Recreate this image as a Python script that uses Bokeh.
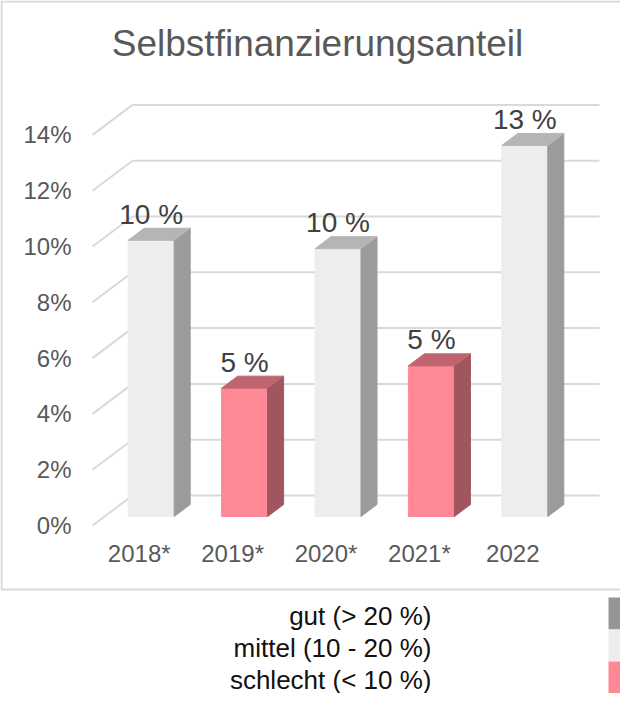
from bokeh.plotting import figure
from bokeh.models import Range1d, ColumnDataSource
from bokeh.core.properties import value
from bokeh.embed import file_html
from bokeh.resources import INLINE

# ---------------- data ----------------
title_text = "Selbstfinanzierungsanteil"
years = ["2018*", "2019*", "2020*", "2021*", "2022"]
shares = [9.9, 4.6, 9.6, 5.4, 13.3]
share_labels = ["10 %", "5 %", "10 %", "5 %", "13 %"]
ratings = ["mittel", "schlecht", "mittel", "schlecht", "mittel"]
y_ticks = [0, 2, 4, 6, 8, 10, 12, 14]
y_tick_labels = ["0%", "2%", "4%", "6%", "8%", "10%", "12%", "14%"]
legend_keys = ["gut", "mittel", "schlecht"]
legend_labels = ["gut (> 20 %)", "mittel (10 - 20 %)", "schlecht (< 10 %)"]

# ---------------- styles ----------------
FRONT = {"gut": "#969696", "mittel": "#EDEDED", "schlecht": "#FF8896"}
SIDE = {"gut": "#7A7A7A", "mittel": "#9B9B9B", "schlecht": "#A0565F"}
TOP = {"gut": "#8A8A8A", "mittel": "#B5B5B5", "schlecht": "#C0656F"}
GRID = "#D9D9D9"
FONT = value("Liberation Sans")

# projection geometry (pixels on the page)
PX_PER_CAT = 93.4
PX_PER_PCT = 27.9
ORIGIN_X = 100.0
ORIGIN_Y = 533.0
DEPTH_X = 40.0 / PX_PER_CAT
DEPTH_Y = 30.0 / PX_PER_PCT
BAR_HALF = 23.0 / PX_PER_CAT
D0, D1 = 0.3, 0.7

W, H = 620, 693


def cx(X):
    return (X - ORIGIN_X) / PX_PER_CAT


def vy(Y):
    return (ORIGIN_Y - Y) / PX_PER_PCT


p = figure(width=W, height=H, output_backend="svg", toolbar_location=None,
           x_range=Range1d(cx(8), cx(8 + W)), y_range=Range1d(vy(8 + H), vy(8)),
           min_border=0, outline_line_color=None)
p.axis.visible = False
p.grid.visible = False
p.background_fill_color = "white"
p.border_fill_color = "white"

# chart border (right edge runs off the page)
p.quad(left=[cx(9)], right=[cx(800)], top=[vy(9)], bottom=[vy(597)],
       fill_color=None, line_color=GRID, line_width=2)

# title
p.text(x=[cx(325)], y=[vy(51)], text=[title_text], text_font=FONT,
       text_font_size=value("37px"), text_color="#595959",
       text_align="center", text_baseline="middle")

# gridlines: back wall and side wall
n = len(years)
p.segment(x0=[DEPTH_X] * len(y_ticks), y0=[t + DEPTH_Y for t in y_ticks],
          x1=[n + DEPTH_X] * len(y_ticks), y1=[t + DEPTH_Y for t in y_ticks],
          line_color=GRID, line_width=2)
p.segment(x0=[0] * len(y_ticks), y0=y_ticks,
          x1=[DEPTH_X] * len(y_ticks), y1=[t + DEPTH_Y for t in y_ticks],
          line_color=GRID, line_width=2)

# y tick labels
p.text(x=[cx(79)] * len(y_ticks), y=y_ticks, text=y_tick_labels, text_font=FONT,
       text_font_size=value("24px"), text_color="#595959",
       text_align="right", text_baseline="middle")

# bars
ddx = (D1 - D0) * DEPTH_X
ddy = (D1 - D0) * DEPTH_Y
fl, fr, fb, ft, fc = [], [], [], [], []
sxs, sys_, sc = [], [], []
txs, tys, tc = [], [], []
lab_x, lab_y = [], []
for i, (v, r) in enumerate(zip(shares, ratings)):
    c = i + 0.5 + D0 * DEPTH_X
    l, rr = c - BAR_HALF, c + BAR_HALF
    b = D0 * DEPTH_Y
    t = v + D0 * DEPTH_Y
    fl.append(l); fr.append(rr); fb.append(b); ft.append(t); fc.append(FRONT[r])
    sxs.append([rr, rr + ddx, rr + ddx, rr])
    sys_.append([b, b + ddy, t + ddy, t])
    sc.append(SIDE[r])
    txs.append([l, rr, rr + ddx, l + ddx])
    tys.append([t, t, t + ddy, t + ddy])
    tc.append(TOP[r])
    lab_x.append(c)
    lab_y.append(t + 26.0 / PX_PER_PCT)

p.quad(left=fl, right=fr, bottom=fb, top=ft, fill_color=fc, line_color=fc, line_width=1)
p.patches(xs=sxs, ys=sys_, fill_color=sc, line_color=sc, line_width=1)
p.patches(xs=txs, ys=tys, fill_color=tc, line_color=tc, line_width=1)

# value labels
p.text(x=lab_x, y=lab_y, text=share_labels, text_font=FONT,
       text_font_size=value("28px"), text_color="#404040",
       text_align="center", text_baseline="middle")

# category labels
p.text(x=[i + 0.5 for i in range(n)], y=[vy(561)] * n, text=years, text_font=FONT,
       text_font_size=value("24px"), text_color="#595959",
       text_align="center", text_baseline="middle")

# legend below the chart
leg_src = ColumnDataSource(dict(
    x=[cx(439)] * 3,
    y=[vy(623 + 32 * i) for i in range(3)],
    text=legend_labels,
    left=[cx(616)] * 3,
    right=[cx(800)] * 3,
    top=[vy(605 + 32 * i) for i in range(3)],
    bottom=[vy(637 + 32 * i) for i in range(3)],
    color=[FRONT[k] for k in legend_keys],
))
p.quad(left="left", right="right", top="top", bottom="bottom", fill_color="color",
       line_color=None, source=leg_src)
p.text(x="x", y="y", text="text", text_font=FONT, text_font_size=value("26px"),
       text_color="#111111", text_align="right", text_baseline="middle", source=leg_src)

open("out.html", "w").write(file_html(p, INLINE))
